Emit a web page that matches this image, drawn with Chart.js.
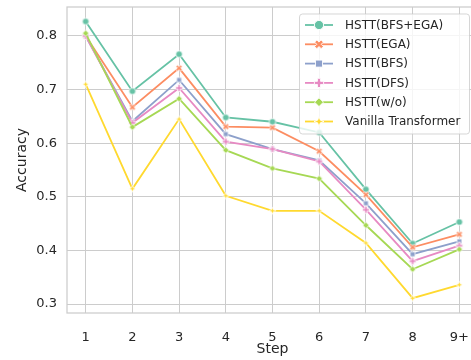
<!DOCTYPE html>
<html>
<head>
<meta charset="utf-8">
<script src="https://cdn.jsdelivr.net/npm/chart.js@4.4.1/dist/chart.umd.min.js"></script>
<style>
  html, body { margin: 0; padding: 0; background: #ffffff; overflow: hidden; }
  #wrap { width: 490px; height: 360px; }
</style>
</head>
<body>
<div id="wrap"><canvas id="chart" width="490" height="360"></canvas></div>
<script>
// Step axis
const stepNums = [1, 2, 3, 4, 5, 6, 7, 8, 9];
const stepLabels = ['1', '2', '3', '4', '5', '6', '7', '8', '9+'];
const yTicks = [0.3, 0.4, 0.5, 0.6, 0.7, 0.8];

// Accuracy per step for each model variant
const hsttBfsEga = [0.827, 0.697, 0.766, 0.648, 0.640, 0.620, 0.514, 0.413, 0.453];
const hsttEga    = [0.800, 0.667, 0.740, 0.631, 0.629, 0.585, 0.504, 0.406, 0.430];
const hsttBfs    = [0.800, 0.641, 0.718, 0.617, 0.589, 0.568, 0.488, 0.393, 0.417];
const hsttDfs    = [0.800, 0.638, 0.703, 0.603, 0.589, 0.566, 0.476, 0.380, 0.409];
const hsttWo     = [0.805, 0.630, 0.683, 0.587, 0.553, 0.534, 0.447, 0.365, 0.402];
const vanilla    = [0.710, 0.515, 0.645, 0.502, 0.474, 0.474, 0.414, 0.311, 0.336];

const seriesNames = ['HSTT(BFS+EGA)', 'HSTT(EGA)', 'HSTT(BFS)', 'HSTT(DFS)', 'HSTT(w/o)', 'Vanilla Transformer'];
const seriesValues = [hsttBfsEga, hsttEga, hsttBfs, hsttDfs, hsttWo, vanilla];
const colors = ['#66c2a5', '#fc8d62', '#8da0cb', '#e78ac3', '#a6d854', '#ffd92f'];
const shapes = ['circle', 'x', 'square', 'plus', 'diamond', 'star4'];

const FONT = "'DejaVu Sans', sans-serif";
const TEXT = '#262626';
const GRID = '#cccccc';
const PLOT_RIGHT = 478;

// Marker path drawing (s = half size)
function markerPath(ctx, shape, cx, cy, s) {
  ctx.beginPath();
  if (shape === 'circle') {
    ctx.arc(cx, cy, s, 0, Math.PI * 2);
  } else if (shape === 'square') {
    const h = s * 0.82;
    ctx.rect(cx - h, cy - h, 2 * h, 2 * h);
  } else if (shape === 'diamond') {
    ctx.moveTo(cx, cy - s); ctx.lineTo(cx + s, cy); ctx.lineTo(cx, cy + s); ctx.lineTo(cx - s, cy);
    ctx.closePath();
  } else if (shape === 'star4') {
    for (let k = 0; k < 8; k++) {
      const a = -Math.PI / 2 + k * Math.PI / 4;
      const r = (k % 2 === 0) ? s : s * 0.38;
      const px = cx + r * Math.cos(a), py = cy + r * Math.sin(a);
      if (k === 0) ctx.moveTo(px, py); else ctx.lineTo(px, py);
    }
    ctx.closePath();
  } else {
    // plus / x: filled cross polygon
    const w = s * 0.34;
    const pts = [[-w, -s], [w, -s], [w, -w], [s, -w], [s, w], [w, w], [w, s], [-w, s], [-w, w], [-s, w], [-s, -w], [-w, -w]];
    const rot = shape === 'x' ? Math.PI / 4 : 0;
    const c = Math.cos(rot), sn = Math.sin(rot);
    pts.forEach(([px, py], k) => {
      const X = cx + px * c - py * sn, Y = cy + px * sn + py * c;
      if (k === 0) ctx.moveTo(X, Y); else ctx.lineTo(X, Y);
    });
    ctx.closePath();
  }
}

function drawMarker(ctx, shape, cx, cy, s, color, edge) {
  markerPath(ctx, shape, cx, cy, s);
  ctx.fillStyle = color;
  ctx.fill();
  ctx.lineWidth = edge;
  ctx.strokeStyle = '#ffffff';
  ctx.stroke();
}

function markerImage(shape, color, s) {
  const size = Math.ceil(2 * s + 3);
  const c = document.createElement('canvas');
  c.width = size; c.height = size;
  drawMarker(c.getContext('2d'), shape, size / 2, size / 2, s, color, 0.8);
  return c;
}

const plotSizes = { circle: 3.3, x: 3.3, square: 3.0, plus: 3.4, diamond: 3.3, star4: 3.6 };
const legendSizes = { circle: 4.6, x: 4.6, square: 4.3, plus: 4.6, diamond: 4.4, star4: 5.0 };

const datasets = seriesNames.map((name, i) => ({
  label: name,
  data: seriesValues[i].map((v, k) => ({ x: stepNums[k], y: v })),
  borderColor: colors[i],
  backgroundColor: colors[i],
  borderWidth: 1.8,
  pointStyle: markerImage(shapes[i], colors[i], plotSizes[shapes[i]]),
  pointRadius: 4,
  pointHoverRadius: 4,
  tension: 0,
  order: seriesNames.length - i
}));

// Top/right frame around the plot area
const framePlugin = {
  id: 'frame',
  beforeDatasetsDraw(chart) {
    const { ctx, chartArea: a } = chart;
    ctx.save();
    ctx.strokeStyle = GRID;
    ctx.lineWidth = 1.25;
    ctx.strokeRect(a.left, a.top, a.right - a.left, a.bottom - a.top);
    ctx.restore();
  }
};

// Boxed legend in the upper right of the plot
const legendPlugin = {
  id: 'boxLegend',
  afterDatasetsDraw(chart) {
    const { ctx } = chart;
    const x0 = 299.5, y0 = 14, w = 170, h = 120, r = 3;
    ctx.save();
    ctx.beginPath();
    ctx.roundRect(x0, y0, w, h, r);
    ctx.fillStyle = 'rgba(255,255,255,0.8)';
    ctx.fill();
    ctx.strokeStyle = 'rgba(204,204,204,0.8)';
    ctx.lineWidth = 1;
    ctx.stroke();
    ctx.font = '12px ' + FONT;
    ctx.textBaseline = 'middle';
    ctx.textAlign = 'left';
    chart.data.datasets.forEach((ds, i) => {
      const y = 25 + i * 19.3;
      ctx.beginPath();
      ctx.moveTo(305, y); ctx.lineTo(333, y);
      ctx.strokeStyle = colors[i];
      ctx.lineWidth = 1.8;
      ctx.stroke();
      drawMarker(ctx, shapes[i], 319, y, legendSizes[shapes[i]], colors[i], 0.9);
      ctx.fillStyle = TEXT;
      ctx.fillText(ds.label, 345, y + 0.5);
    });
    ctx.restore();
  }
};

const chart = new Chart(document.getElementById('chart'), {
  type: 'line',
  data: { datasets },
  options: {
    responsive: false,
    animation: false,
    devicePixelRatio: 1,
    layout: { padding: { top: 7, right: 9, bottom: 0, left: 0 } },
    plugins: { legend: { display: false }, tooltip: { enabled: false } },
    scales: {
      x: {
        type: 'linear',
        min: 0.6,
        max: 9.4,
        afterBuildTicks: (s) => { s.ticks = stepNums.map(v => ({ value: v })); },
        afterFit: (s) => { s.height = 47; s.paddingLeft = 0; s.paddingRight = 0; },
        ticks: {
          autoSkip: false,
          maxRotation: 0,
          padding: 17,
          color: TEXT,
          font: { family: FONT, size: 13 },
          callback: (v) => stepLabels[stepNums.indexOf(v)]
        },
        grid: { color: GRID, lineWidth: 1, drawTicks: false },
        border: { display: false },
        title: {
          display: true, text: 'Step', color: TEXT,
          font: { family: FONT, size: 14 },
          padding: { top: 0, bottom: 2 }
        }
      },
      y: {
        min: 0.2834,
        max: 0.854,
        afterBuildTicks: (s) => { s.ticks = yTicks.map(v => ({ value: v })); },
        afterFit: (s) => { s.width = 67; s.paddingTop = 0; s.paddingBottom = 0; },
        ticks: {
          padding: 10,
          color: TEXT,
          font: { family: FONT, size: 13 },
          callback: (v) => v.toFixed(1)
        },
        grid: { color: GRID, lineWidth: 1, drawTicks: false },
        border: { display: false },
        title: {
          display: true, text: 'Accuracy', color: TEXT,
          font: { family: FONT, size: 14 },
          padding: { top: 14, bottom: 0 }
        }
      }
    }
  },
  plugins: [framePlugin, legendPlugin]
});

// Nudge the right padding so the plot's right edge sits at PLOT_RIGHT
for (let pass = 0; pass < 3; pass++) {
  const diff = chart.chartArea.right - PLOT_RIGHT;
  if (Math.abs(diff) < 0.1) break;
  chart.config.options.layout.padding.right += diff;
  chart.update();
}
</script>
</body>
</html>
